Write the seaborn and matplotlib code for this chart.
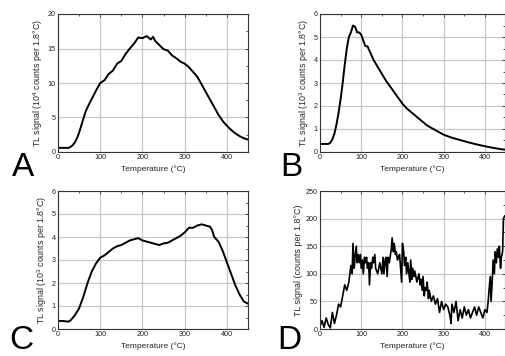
import numpy as np
import matplotlib
matplotlib.use("Agg")
import matplotlib.pyplot as plt
import pandas as pd
import seaborn as sns

# panel A (10^4 counts)
a_temp = [0, 10, 20, 25, 30, 35, 40, 45, 50, 55,
          60, 65, 70, 80, 90, 100, 110, 120, 130, 140,
          150, 160, 170, 180, 190, 200, 210, 220, 225,
          230, 240, 250, 260, 270, 280, 290, 300, 310, 320, 330,
          340, 350, 360, 370, 380, 390, 400, 410, 420, 430, 440, 450]
a_sig = [0.6, 0.6, 0.6, 0.6, 0.75, 1.0, 1.4, 2.0, 2.8, 3.8,
         4.8, 5.8, 6.5, 7.7, 8.9, 10.0, 10.4, 11.3, 11.8, 12.8,
         13.2, 14.2, 15.0, 15.7, 16.6, 16.5, 16.8, 16.3, 16.7,
         16.1, 15.5, 14.9, 14.7, 14.0, 13.6, 13.1, 12.8, 12.3, 11.6, 10.9,
         9.8, 8.7, 7.6, 6.5, 5.4, 4.5, 3.8, 3.2, 2.7, 2.3, 2.0, 1.8]

# panel B (10^3 counts)
b_temp = [0, 10, 20, 25, 30, 35, 40, 45, 50, 55,
          60, 65, 70, 75, 80, 85, 90, 95, 100, 105,
          110, 115, 120,
          130, 140, 150, 160, 170, 180, 190, 200, 210, 220,
          230, 240, 250, 260, 270, 280, 290, 300,
          320, 340, 360, 380, 400, 420, 440, 450]
b_sig = [0.35, 0.35, 0.35, 0.4, 0.55, 0.8, 1.2, 1.7, 2.3, 3.0,
         3.8, 4.5, 5.0, 5.2, 5.5, 5.45, 5.2, 5.2, 5.1, 4.85,
         4.6, 4.6, 4.4,
         4.0, 3.7, 3.4, 3.1, 2.85, 2.6, 2.35, 2.1, 1.9, 1.75,
         1.6, 1.45, 1.3, 1.15, 1.05, 0.95, 0.85, 0.75,
         0.62, 0.52, 0.42, 0.33, 0.25, 0.18, 0.12, 0.1]

# panel C (10^3 counts)
c_temp = [0, 10, 20, 25, 30,
          40, 50, 60, 70, 80, 90, 100, 110, 120, 130,
          140, 150, 160, 170, 180, 190, 200, 210, 220, 230,
          240, 250, 260, 270, 280, 290, 300, 310, 320, 330,
          340, 350, 360, 365,
          370, 380, 390, 400, 410, 420, 430, 440, 450]
c_sig = [0.35, 0.35, 0.33, 0.32, 0.38,
         0.6, 0.9, 1.4, 2.0, 2.5, 2.85, 3.1, 3.2, 3.35, 3.5,
         3.6, 3.65, 3.75, 3.85, 3.9, 3.95, 3.85, 3.8, 3.75, 3.7,
         3.65, 3.72, 3.75, 3.85, 3.95, 4.05, 4.2, 4.4, 4.4, 4.5,
         4.55, 4.5, 4.45, 4.3,
         4.0, 3.8, 3.4, 2.9, 2.4, 1.9, 1.5, 1.2, 1.1]

# panel D (counts)
d_temp = [0, 5, 10, 15, 20, 25, 30, 35, 40, 45,
          50, 55, 60, 65, 70, 75, 78, 80, 83, 85,
          88, 90, 93, 95, 98, 100, 103, 105, 108, 110,
          113, 115, 118, 120, 123, 125, 128, 130, 133, 135,
          140, 145, 150, 153, 155, 158, 160, 163, 165, 168,
          170, 173, 175, 178, 180, 183, 185, 188, 190, 193,
          195, 198, 200, 203, 205, 208, 210, 213, 215, 218,
          220, 223, 225, 228, 230, 235, 240, 243, 245, 248,
          250, 253, 255, 258, 260, 263, 265, 270, 275, 280,
          285, 290, 295, 300, 305, 310, 315, 318, 320, 325,
          330, 335, 340, 345, 350, 355, 360, 365, 370, 375,
          380, 385, 390, 395, 400, 405, 408, 410, 413, 415,
          418, 420, 423, 425, 428, 430, 433, 435, 438, 440,
          443, 445, 448]
d_sig = [5, 15, 3, 20, 8, 2, 30, 10, 25, 45,
         40, 60, 80, 70, 85, 115, 100, 155, 110, 130,
         150, 120, 135, 120, 135, 110, 125, 100, 130, 120,
         130, 110, 120, 80, 120, 110, 130, 120, 135, 110,
         100, 120, 100, 130, 100, 125, 130, 95, 130, 120,
         130, 145, 165, 140, 155, 135, 140, 125, 130, 135,
         115, 85, 155, 140, 115, 130, 100, 120, 105, 85,
         125, 90, 110, 95, 105, 85, 100, 80, 90, 70,
         95, 60, 75, 70, 85, 55, 70, 50, 60, 45,
         55, 30, 50, 35, 45, 40, 25, 10, 45, 30,
         50, 15, 35, 20, 40, 25, 35, 20, 30, 40,
         25, 40, 30, 20, 35, 30, 50, 70, 95, 50,
         90, 125, 100, 140, 120, 145, 130, 150, 110, 130,
         140, 200, 205]

ylabels = ["TL signal (10$^4$ counts per 1.8°C)",
           "TL signal (10$^3$ counts per 1.8°C)",
           "TL signal (10$^3$ counts per 1.8°C)",
           "TL signal (counts per 1.8°C)"]
letters = ["A", "B", "C", "D"]

sns.set_style("white")
plt.rcParams['font.family'] = ['Liberation Sans', 'DejaVu Sans']
plt.rcParams['mathtext.fontset'] = 'custom'
plt.rcParams['mathtext.rm'] = 'Liberation Sans'
plt.rcParams['text.color'] = '#222222'

fig = plt.figure(figsize=(5.06, 3.56), dpi=100)
W, H = 506, 356
boxes = [(58, 14, 248, 152), (320, 14, 505.5, 152),
         (58, 191, 248, 329), (320, 191, 505.5, 329)]
panels = [(a_temp, a_sig, 20, 5), (b_temp, b_sig, 6, 1),
          (c_temp, c_sig, 6, 1), (d_temp, d_sig, 250, 50)]
letter_pos = [(12, 176), (280, 176), (9, 349), (277, 349)]

for i, (box, (t, s, ymax, ystep)) in enumerate(zip(boxes, panels)):
    x0, y0, x1, y1 = box
    ax = fig.add_axes([x0 / W, 1 - y1 / H, (x1 - x0) / W, (y1 - y0) / H])
    df = pd.DataFrame({"t": t, "s": s})
    sns.lineplot(data=df, x="t", y="s", ax=ax, color="black",
                 lw=1.4 if i < 3 else 1.2)
    ax.set_xlim(0, 450)
    ax.set_ylim(0, ymax)
    ax.set_xticks(np.arange(0, 401, 100))
    ax.set_xticks(np.arange(50, 451, 50), minor=True)
    ax.set_yticks(np.arange(0, ymax + ystep / 2, ystep))
    ax.set_yticks(np.arange(ystep / 2, ymax, ystep), minor=True)
    ax.grid(True, which="major", color="#c8c8c8", lw=0.9)
    ax.tick_params(which="both", direction="in", top=True, right=True,
                   labelsize=5.2, pad=1.5, width=0.6, color="#333333",
                   labelcolor="#222222")
    ax.tick_params(which="major", length=2.5)
    ax.tick_params(which="minor", length=1.5)
    for sp in ax.spines.values():
        sp.set_linewidth(0.8)
        sp.set_color("#333333")
    ax.set_xlabel("Temperature (°C)", fontsize=6.0, labelpad=3)
    ax.set_ylabel(ylabels[i], fontsize=6.4, labelpad=2)
    lx, ly = letter_pos[i]
    fig.text(lx / W, 1 - ly / H, letters[i], fontsize=24, va="baseline",
             color="black")

fig.savefig("out.png", dpi=100)
